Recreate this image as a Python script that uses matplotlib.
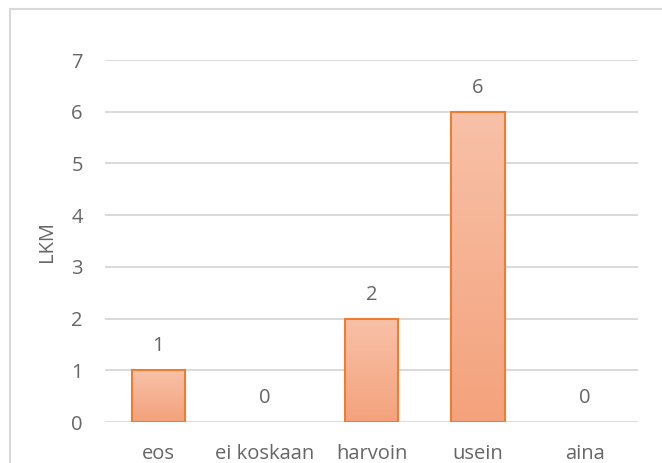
import matplotlib
matplotlib.use("Agg")
import matplotlib.pyplot as plt
import numpy as np
from matplotlib.colors import LinearSegmentedColormap
from matplotlib.patches import Rectangle

categories = ["eos", "ei koskaan", "harvoin", "usein", "aina"]
counts = [1, 0, 2, 6, 0]
y_ticks = [0, 1, 2, 3, 4, 5, 6, 7]
y_label = "LKM"

text_color = "#666666"
grid_color = "#D9D9D9"
edge_color = "#ED7D31"
grad = LinearSegmentedColormap.from_list("bar_grad", ["#F4A27C", "#F8C1A8"])

plt.rcParams["font.family"] = ["Open Sans", "DejaVu Sans"]
fs = 14.5

fig = plt.figure(figsize=(6.62, 4.63), dpi=100)
ax = fig.add_axes([105 / 662, 1 - 422 / 463, (638 - 105) / 662, (422 - 60) / 463])

x = np.arange(len(categories))
bars = ax.bar(x, counts, width=0.5, facecolor="none", edgecolor=edge_color,
              linewidth=1.5, zorder=3)

# vertical gradient fill inside each bar; empty bars get no outline
g = np.linspace(0, 1, 256).reshape(-1, 1)
for b in bars:
    h = b.get_height()
    if h <= 0:
        b.set_edgecolor("none")
        continue
    x0 = b.get_x()
    w = b.get_width()
    im = ax.imshow(g, cmap=grad, origin="lower", aspect="auto",
                   extent=[x0, x0 + w, 0, h], zorder=2, interpolation="bicubic")
    im.set_clip_path(b)

for xi, v in zip(x, counts):
    ax.annotate(str(v), (xi, v), xytext=(0, 10), textcoords="offset points",
                ha="center", va="bottom", fontsize=fs, color=text_color)

ax.set_xlim(-0.5, len(categories) - 0.5)
ax.set_ylim(0, 7)
ax.set_yticks(y_ticks)
ax.set_xticks(x)
ax.set_xticklabels(categories)
ax.tick_params(axis="both", length=0, labelsize=fs, labelcolor=text_color)
ax.tick_params(axis="y", pad=16)
ax.tick_params(axis="x", pad=15.5)
ax.grid(axis="y", color=grid_color, linewidth=1.4, zorder=0)
ax.set_axisbelow(True)
for s in ax.spines.values():
    s.set_visible(False)
ax.set_ylabel(y_label, fontsize=fs, color=text_color, labelpad=10)

# outer chart border
fig.patches.append(Rectangle((10 / 662, -0.1), 1.2, 1 - 9 / 463 + 0.1,
                             transform=fig.transFigure, fill=False,
                             edgecolor=grid_color, linewidth=1.5))

fig.savefig("out.png", dpi=100)
